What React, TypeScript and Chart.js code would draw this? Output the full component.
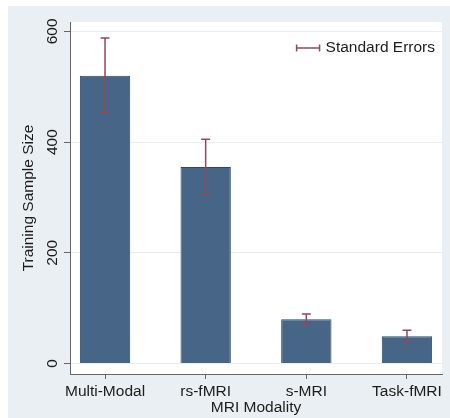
import React, { useEffect, useRef } from "react";
import { Chart, registerables } from "chart.js";

Chart.register(...registerables);

const categories = ["Multi-Modal", "rs-fMRI", "s-MRI", "Task-fMRI"];
const sampleSizes = [520, 355, 80, 49];
const standardErrors = [68, 50, 9.5, 11];
const yTickValues = [0, 200, 400, 600];
const xAxisTitle = "MRI Modality";
const yAxisTitle = "Training Sample Size";
const legendLabel = "Standard Errors";

const FONT = "'Liberation Sans', Arial, Helvetica, sans-serif";
const BG = "#e9eff2";
const BAR_FILL = "#476687";
const BAR_BORDER = "#2d4a67";
const SE_COLOR = "#8e4a5c";
const AXIS_COLOR = "#666666";
const GRID_COLOR = "#e8eef1";
const TEXT_COLOR = "#1c1c1c";

const backgroundPlugin = {
  id: "stataBackground",
  beforeDraw(chart: any) {
    const { ctx, chartArea, width, height } = chart;
    ctx.save();
    ctx.fillStyle = BG;
    ctx.fillRect(0, 0, width, height);
    ctx.fillStyle = "#ffffff";
    ctx.fillRect(chartArea.left, chartArea.top, chartArea.right - chartArea.left, chartArea.bottom - chartArea.top);
    ctx.restore();
  },
};

const errorBarPlugin = {
  id: "errorBars",
  afterDatasetsDraw(chart: any) {
    const { ctx, scales } = chart;
    const x = scales.x;
    const y = scales.y;
    ctx.save();
    ctx.strokeStyle = SE_COLOR;
    ctx.lineWidth = 1.5;
    categories.forEach((_, i) => {
      const px = x.getPixelForValue(i);
      const top = y.getPixelForValue(sampleSizes[i] + standardErrors[i]);
      const bot = y.getPixelForValue(sampleSizes[i] - standardErrors[i]);
      ctx.beginPath();
      ctx.moveTo(px, top);
      ctx.lineTo(px, bot);
      ctx.moveTo(px - 4.5, top);
      ctx.lineTo(px + 4.5, top);
      ctx.moveTo(px - 4.5, bot);
      ctx.lineTo(px + 4.5, bot);
      ctx.stroke();
    });
    ctx.restore();
  },
  afterDraw(chart: any) {
    const { ctx, chartArea } = chart;
    ctx.save();
    ctx.font = `15.5px ${FONT}`;
    ctx.fillStyle = TEXT_COLOR;
    ctx.textAlign = "right";
    ctx.textBaseline = "middle";
    const tx = chartArea.right - 7;
    const ty = chartArea.top + 26;
    ctx.fillText(legendLabel, tx, ty);
    const w = ctx.measureText(legendLabel).width;
    const x1 = tx - w - 6;
    const x0 = x1 - 23;
    ctx.strokeStyle = SE_COLOR;
    ctx.lineWidth = 1.5;
    ctx.beginPath();
    ctx.moveTo(x0, ty);
    ctx.lineTo(x1, ty);
    ctx.moveTo(x0, ty - 3.5);
    ctx.lineTo(x0, ty + 3.5);
    ctx.moveTo(x1, ty - 3.5);
    ctx.lineTo(x1, ty + 3.5);
    ctx.stroke();
    ctx.restore();
  },
};

export default function App() {
  const canvasRef = useRef<HTMLCanvasElement | null>(null);

  useEffect(() => {
    if (!canvasRef.current) return;
    const chart = new Chart(canvasRef.current, {
      type: "bar",
      data: {
        datasets: [
          {
            label: "Training Sample Size",
            data: sampleSizes.map((v, i) => ({ x: i, y: v })),
            backgroundColor: BAR_FILL,
            borderColor: BAR_BORDER,
            borderWidth: 1,
            barPercentage: 0.5,
            categoryPercentage: 1,
          },
        ],
      },
      options: {
        animation: false,
        responsive: false,
        layout: { padding: { top: 16, right: 8, left: 0, bottom: 0 } },
        plugins: {
          legend: { display: false },
          tooltip: { enabled: false },
        },
        scales: {
          x: {
            type: "linear",
            offset: false,
            min: -0.348,
            max: 3.348,
            afterBuildTicks: (scale: any) => {
              scale.ticks = categories.map((_, i) => ({ value: i }));
            },
            afterFit: (scale: any) => {
              scale.height = 44;
            },
            ticks: {
              autoSkip: false,
              maxRotation: 0,
              minRotation: 0,
              padding: 3,
              color: TEXT_COLOR,
              font: { family: FONT, size: 15.5 },
              callback: (v: any) => categories[Math.round(Number(v))] ?? "",
            },
            grid: {
              offset: false,
              drawOnChartArea: false,
              drawTicks: true,
              tickLength: 5,
              tickColor: AXIS_COLOR,
            },
            border: { display: true, color: AXIS_COLOR, width: 1 },
            title: {
              display: true,
              text: xAxisTitle,
              color: TEXT_COLOR,
              font: { family: FONT, size: 15.5 },
              padding: { top: 0, bottom: 1 },
            },
          },
          y: {
            type: "linear",
            min: -19,
            max: 617,
            afterBuildTicks: (scale: any) => {
              scale.ticks = yTickValues.map((v) => ({ value: v }));
            },
            afterFit: (scale: any) => {
              scale.width = 62;
            },
            ticks: {
              minRotation: 90,
              maxRotation: 90,
              crossAlign: "center",
              padding: -1.5,
              color: TEXT_COLOR,
              font: { family: FONT, size: 15.5 },
            },
            grid: {
              color: GRID_COLOR,
              drawTicks: true,
              tickLength: 6,
              tickColor: AXIS_COLOR,
            },
            border: { display: true, color: AXIS_COLOR, width: 1 },
            title: {
              display: true,
              text: yAxisTitle,
              color: TEXT_COLOR,
              font: { family: FONT, size: 15.5 },
              padding: { top: 11.5, bottom: 0 },
            },
          },
        },
      } as any,
      plugins: [backgroundPlugin, errorBarPlugin],
    });
    return () => chart.destroy();
  }, []);

  return (
    <div style={{ position: "absolute", left: 8, top: 6, width: 442, height: 412 }}>
      <canvas ref={canvasRef} width={442} height={412} style={{ display: "block" }} />
    </div>
  );
}
